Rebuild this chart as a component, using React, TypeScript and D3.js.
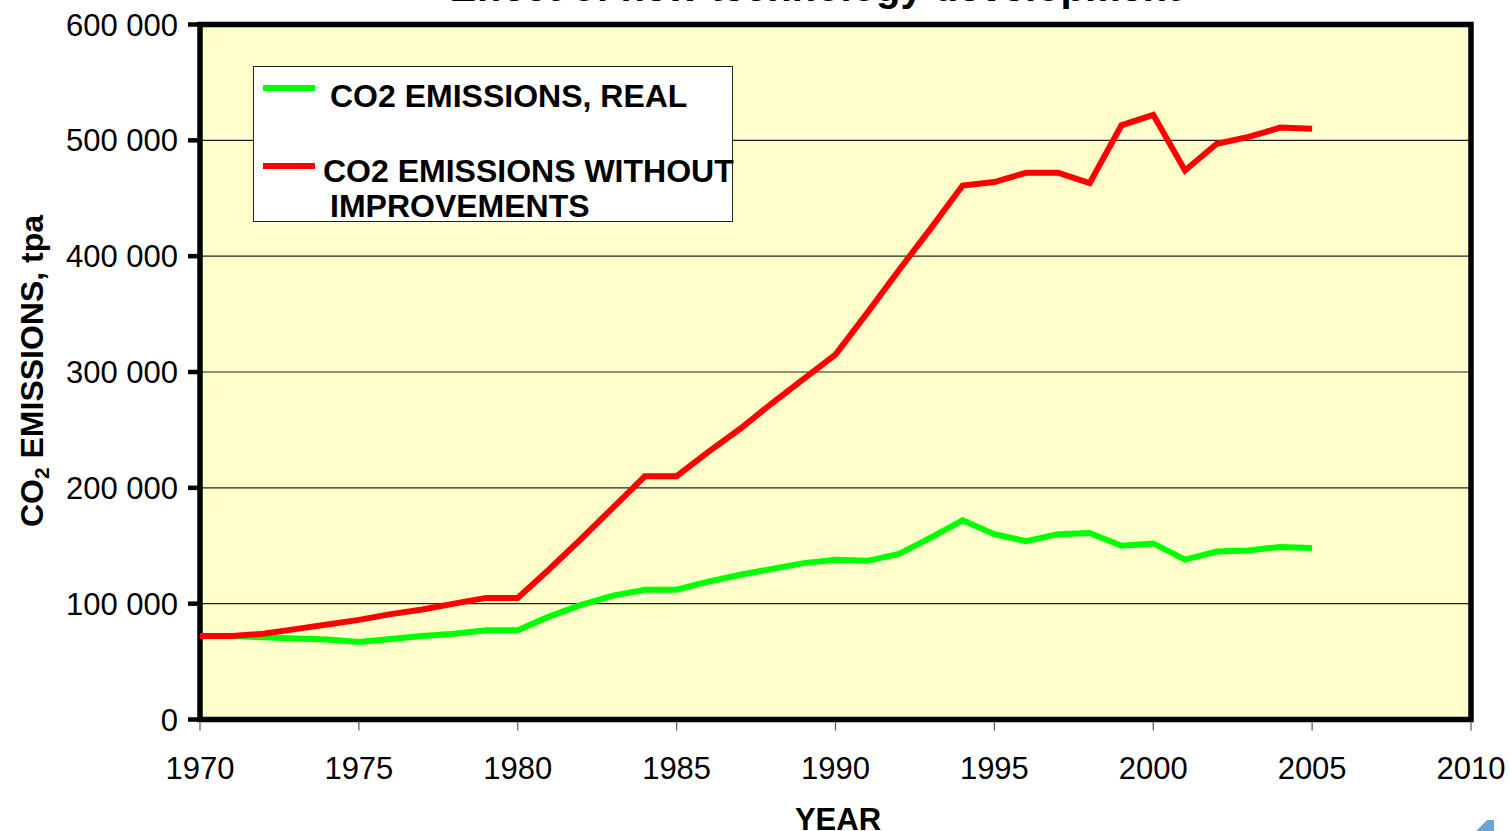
import { useEffect, useRef } from "react"
import * as d3 from "d3"

const years = [
  1970, 1971, 1972, 1973, 1974, 1975, 1976, 1977, 1978, 1979,
  1980, 1981, 1982, 1983, 1984, 1985, 1986, 1987, 1988, 1989,
  1990, 1991, 1992, 1993, 1994, 1995, 1996, 1997, 1998, 1999,
  2000, 2001, 2002, 2003, 2004, 2005
]

const realEmissions = [
  72000, 72000, 71000, 70000, 69000, 67000, 69500, 72000, 74000, 77000,
  77000, 89000, 99000, 107000, 112000, 112000, 119000, 125000, 130000, 135000,
  138000, 137000, 143000, 157000, 172000, 160000, 154000, 160000, 161000, 150000,
  152000, 138000, 145000, 146000, 149000, 148000
]

const noImprovementEmissions = [
  72000, 72000, 74000, 78000, 82000, 86000, 91000, 95000, 100000, 105000,
  105000, 130000, 156000, 183000, 210000, 210000, 231000, 251000, 273000, 294000,
  315000, 351000, 388000, 424000, 461000, 464000, 472000, 472000, 463000, 513000,
  522000, 474000, 497000, 503000, 511000, 510000
]

const yTicks = [0, 100000, 200000, 300000, 400000, 500000, 600000]
const xTicks = [1970, 1975, 1980, 1985, 1990, 1995, 2000, 2005, 2010]

const seriesNames = ["CO2 EMISSIONS, REAL", "CO2 EMISSIONS WITHOUT", "IMPROVEMENTS"]

const FONT = "'Liberation Sans', Arial, sans-serif"

export default function App() {
  const svgRef = useRef<SVGSVGElement>(null)

  useEffect(() => {
    if (!svgRef.current) return
    const svg = d3.select(svgRef.current)
    svg.selectAll("*").remove()

    const left = 200
    const right = 1471
    const top = 24.5
    const bottom = 719.5

    const x = d3.scaleLinear().domain([1970, 2010]).range([left, right])
    const y = d3.scaleLinear().domain([0, 600000]).range([bottom, top])

    // title, mostly cut off by the top edge
    svg.append("text")
      .attr("x", 815)
      .attr("y", 0.5)
      .attr("text-anchor", "middle")
      .style("font-family", FONT)
      .style("font-weight", "bold")
      .style("font-size", "40px")
      .text("Effect of new technology development")

    svg.append("rect")
      .attr("x", left)
      .attr("y", top)
      .attr("width", right - left)
      .attr("height", bottom - top)
      .attr("fill", "#FFFFCC")

    svg.append("g")
      .selectAll("line")
      .data(yTicks.slice(1, -1))
      .join("line")
      .attr("x1", left)
      .attr("x2", right)
      .attr("y1", d => y(d))
      .attr("y2", d => y(d))
      .attr("stroke", "#222")
      .attr("stroke-width", 1.2)

    // frame
    svg.append("rect")
      .attr("x", left)
      .attr("y", top)
      .attr("width", right - left)
      .attr("height", bottom - top)
      .attr("fill", "none")
      .attr("stroke", "#000")
      .attr("stroke-width", 5.5)

    // y ticks + labels
    const yAxis = svg.append("g")
    yAxis.selectAll("line")
      .data(yTicks)
      .join("line")
      .attr("x1", left - 12)
      .attr("x2", left)
      .attr("y1", d => y(d))
      .attr("y2", d => y(d))
      .attr("stroke", "#000")
      .attr("stroke-width", 4.5)
    yAxis.selectAll("text")
      .data(yTicks)
      .join("text")
      .attr("x", 178)
      .attr("y", d => y(d) + 11)
      .attr("text-anchor", "end")
      .style("font-family", FONT)
      .style("font-size", "31px")
      .text(d => d3.format(",")(d).replace(/,/g, " "))

    // x ticks + labels
    const xAxis = svg.append("g")
    xAxis.selectAll("line")
      .data(xTicks)
      .join("line")
      .attr("x1", d => x(d))
      .attr("x2", d => x(d))
      .attr("y1", bottom + 2)
      .attr("y2", bottom + 11)
      .attr("stroke", "#555")
      .attr("stroke-width", 1.2)
    xAxis.selectAll("text")
      .data(xTicks)
      .join("text")
      .attr("x", d => x(d))
      .attr("y", 779)
      .attr("text-anchor", "middle")
      .style("font-family", FONT)
      .style("font-size", "31px")
      .text(d => String(d))

    svg.append("text")
      .attr("x", 838)
      .attr("y", 830)
      .attr("text-anchor", "middle")
      .style("font-family", FONT)
      .style("font-weight", "bold")
      .style("font-size", "31px")
      .text("YEAR")

    const yTitle = svg.append("text")
      .attr("transform", "translate(43,371) rotate(-90)")
      .attr("text-anchor", "middle")
      .style("font-family", FONT)
      .style("font-weight", "bold")
      .style("font-size", "32px")
    yTitle.append("tspan").text("CO")
    yTitle.append("tspan").attr("dy", 6).style("font-size", "21px").text("2")
    yTitle.append("tspan").attr("dy", -6).text(" EMISSIONS, tpa")

    const line = d3.line<number>()
      .x((_, i) => x(years[i]))
      .y(d => y(d))

    svg.append("path")
      .datum(realEmissions)
      .attr("d", line)
      .attr("fill", "none")
      .attr("stroke", "#00FF00")
      .attr("stroke-width", 6)

    svg.append("path")
      .datum(noImprovementEmissions)
      .attr("d", line)
      .attr("fill", "none")
      .attr("stroke", "#FF0000")
      .attr("stroke-width", 6)

    // legend
    const legend = svg.append("g")
    legend.append("rect")
      .attr("x", 253.5)
      .attr("y", 66.5)
      .attr("width", 479)
      .attr("height", 155)
      .attr("fill", "#fff")
      .attr("stroke", "#222")
      .attr("stroke-width", 1)
    legend.append("line")
      .attr("x1", 263).attr("x2", 315)
      .attr("y1", 88).attr("y2", 88)
      .attr("stroke", "#00FF00")
      .attr("stroke-width", 6)
    legend.append("line")
      .attr("x1", 263).attr("x2", 315)
      .attr("y1", 166).attr("y2", 166)
      .attr("stroke", "#FF0000")
      .attr("stroke-width", 6)
    const legendText = [
      { label: seriesNames[0], x: 330, y: 107 },
      { label: seriesNames[1], x: 323, y: 182 },
      { label: seriesNames[2], x: 330, y: 217 },
    ]
    legend.selectAll("text.lbl")
      .data(legendText)
      .join("text")
      .attr("class", "lbl")
      .attr("x", d => d.x)
      .attr("y", d => d.y)
      .style("font-family", FONT)
      .style("font-weight", "bold")
      .style("font-size", "32px")
      .text(d => d.label)

    // bit of a slide graphic peeking in at the corner
    svg.append("path")
      .attr("d", "M1476,831 L1487,820 L1494,820 L1494,831 Z")
      .attr("fill", "#6FA3D8")
  }, [])

  return (
    <svg
      ref={svgRef}
      width={1510}
      height={831}
      style={{ position: "absolute", left: 0, top: 0, background: "#fff" }}
    />
  )
}
